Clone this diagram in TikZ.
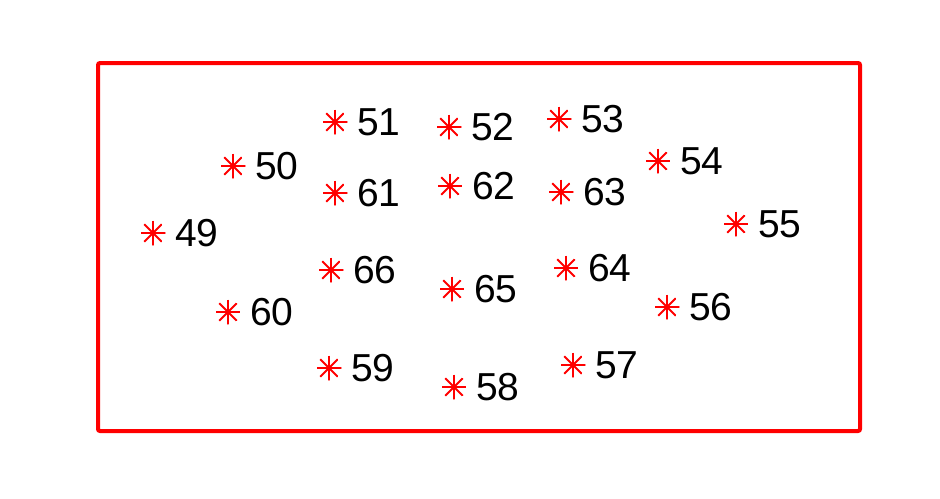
\documentclass[tikz,border=0pt]{standalone}
\usepackage{fontspec}
\setmainfont{Liberation Sans}
\usetikzlibrary{positioning}

\tikzset{
	landmark/.style={circle, minimum size=12.5pt, inner sep=0pt, path picture={
		\foreach \a in {0,45,90,135}
			\draw[red, line width=0.9pt] (path picture bounding box.center) +(\a:6.25pt) -- +(\a+180:6.25pt);
	}},
	landmark label/.style={inner sep=0pt, font=\fontsize{19.5}{23}\selectfont},
	frame/.style={draw=red, line width=2pt, rounded corners=1pt},
}

\begin{document}
\begin{tikzpicture}[x=0.5pt, y=-0.5pt, node distance=4.5pt]
		\useasboundingbox (0,0) rectangle (940,498);
		\draw[frame] (98,63) rectangle (860,431);
		\foreach \px/\py/\id in {153/233/49, 233/166/50, 335/122/51, 449/127/52, 559/119/53,
				658/161/54, 736/224/55, 667/307/56, 573/365/57, 454/387/58, 329/368/59,
				228/312/60, 335/193/61, 450/186/62, 561/192/63, 566/268/64, 452/289/65, 331/270/66} {
			\node[landmark] (p\id) at (\px,\py) {};
			\node[landmark label, right=of p\id] (l\id) {\id};
		}
	\end{tikzpicture}
\end{document}
